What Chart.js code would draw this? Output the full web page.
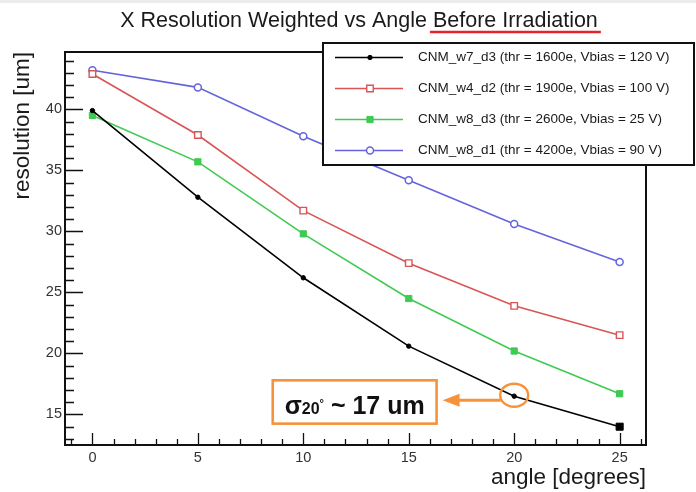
<!DOCTYPE html>
<html>
<head>
<meta charset="utf-8">
<script src="https://cdn.jsdelivr.net/npm/chart.js@4.4.1/dist/chart.umd.min.js"></script>
<style>
html,body{margin:0;padding:0;background:#fff;}
#wrap{width:696px;height:492px;position:relative;}
</style>
</head>
<body>
<div id="wrap"><canvas id="resChart" width="696" height="492"></canvas></div>
<script>
// ================= DATA =================
let angles = [0,5,10,15,20,25]
let resW7d3 = [39.9,32.8,26.2,20.6,16.5,14.0]
let resW4d2 = [42.9,37.9,31.7,27.4,23.9,21.5]
let resW8d3 = [39.5,35.7,29.8,24.5,20.2,16.7]
let resW8d1 = [43.2,41.8,37.8,34.2,30.6,27.5]
let seriesLabels = [
"CNM_w7_d3 (thr = 1600e, Vbias = 120 V)",
"CNM_w4_d2 (thr = 1900e, Vbias = 100 V)",
"CNM_w8_d3 (thr = 2600e, Vbias = 25 V)",
"CNM_w8_d1 (thr = 4200e, Vbias = 90 V)"
]
let xTicks = [0,5,10,15,20,25]
let yTicks = [15,20,25,30,35,40]

const FONT = "'Liberation Sans', Arial, Helvetica, sans-serif"
const ORANGE = "#f7923a"

function pts(vals){
return vals.map((v,i)=>({x:angles[i],y:v}))
}

// ================= PLUGINS =================
// ROOT style frame with inward major/minor ticks
const frameTicks = {
id:"frameTicks",
afterDatasetsDraw(chart){
let {ctx,chartArea:a,scales:{x,y}} = chart
ctx.save()
ctx.strokeStyle = "#111"
ctx.lineWidth = 1.3
ctx.beginPath()
for(let v=-1; v<=26; v++){
let px = Math.round(x.getPixelForValue(v))+0.5
let len = v%5===0 ? 12 : 6
ctx.moveTo(px,a.bottom)
ctx.lineTo(px,a.bottom-len)
}
for(let v=13; v<=44; v++){
let py = Math.round(y.getPixelForValue(v))+0.5
let len = v%5===0 ? 18 : 9
ctx.moveTo(a.left,py)
ctx.lineTo(a.left+len,py)
}
ctx.stroke()
ctx.lineWidth = 2
ctx.strokeRect(a.left,a.top,a.right-a.left,a.bottom-a.top)
ctx.restore()
}
}

// title on top, underline under the second half
const topTitle = {
id:"topTitle",
afterDraw(chart){
let ctx = chart.ctx
ctx.save()
ctx.fillStyle = "#ececec"
ctx.fillRect(0,0,chart.width,3)
ctx.font = "21.5px " + FONT
ctx.fillStyle = "#1a1a1a"
ctx.textBaseline = "alphabetic"
let part1 = "X Resolution Weighted vs Angle "
let part2 = "Before Irradiation"
let w1 = ctx.measureText(part1).width
let w2 = ctx.measureText(part2).width
let x0 = 359 - (w1+w2)/2
ctx.fillText(part1,x0,27)
ctx.fillText(part2,x0+w1,27)
ctx.strokeStyle = "#e8222a"
ctx.lineWidth = 2.6
ctx.beginPath()
ctx.moveTo(x0+w1-3,32)
ctx.lineTo(x0+w1+w2+3,32)
ctx.stroke()
ctx.restore()
}
}

// boxed legend drawn over the frame
function drawMarker(ctx,ds,x,y){
let style = Array.isArray(ds.pointStyle) ? ds.pointStyle[0] : ds.pointStyle
let r = Array.isArray(ds.pointRadius) ? ds.pointRadius[0] : ds.pointRadius
ctx.fillStyle = ds.pointBackgroundColor
ctx.strokeStyle = ds.borderColor
ctx.lineWidth = ds.pointBorderWidth
ctx.beginPath()
if(style==="rect"){
let s = Math.SQRT1_2*r
ctx.rect(x-s,y-s,2*s,2*s)
}else{
ctx.arc(x,y,r,0,Math.PI*2)
}
ctx.fill()
ctx.stroke()
}

const boxLegend = {
id:"boxLegend",
afterDraw(chart){
let ctx = chart.ctx
let L=323, T=43, R=694, B=165
ctx.save()
ctx.fillStyle = "#fff"
ctx.fillRect(L,T,R-L,B-T)
ctx.strokeStyle = "#111"
ctx.lineWidth = 2
ctx.strokeRect(L,T,R-L,B-T)
ctx.font = "13.5px " + FONT
ctx.textBaseline = "middle"
chart.data.datasets.forEach((ds,i)=>{
let ry = 57.5 + i*31
ctx.strokeStyle = ds.borderColor
ctx.lineWidth = ds.borderWidth
ctx.beginPath()
ctx.moveTo(335,ry)
ctx.lineTo(403,ry)
ctx.stroke()
drawMarker(ctx,ds,370,ry)
ctx.fillStyle = "#1a1a1a"
ctx.fillText(ds.label,418,ry)
})
ctx.restore()
}
}

// orange callout: box with sigma text, arrow, ring round the 20 deg point
const callout = {
id:"callout",
afterDraw(chart){
let ctx = chart.ctx
let {x,y} = chart.scales
let pt = chart.getDatasetMeta(0).data[4]
let bx0 = x.getPixelForValue(8.55), bx1 = x.getPixelForValue(16.32)
let by0 = y.getPixelForValue(17.8), by1 = y.getPixelForValue(14.25)
ctx.save()
ctx.fillStyle = "#fff"
ctx.fillRect(bx0,by0,bx1-bx0,by1-by0)
ctx.strokeStyle = ORANGE
ctx.lineWidth = 2.6
ctx.strokeRect(bx0,by0,bx1-bx0,by1-by0)

// text pieces
let base = by1 - 10
let pieces = [
{t:"σ",f:"bold 25px ",dy:0},
{t:"20",f:"bold 16px ",dy:0},
{t:"°",f:"bold 11px ",dy:-7},
{t:" ~ 17 um",f:"bold 25px ",dy:0}
]
let total = 0
pieces.forEach(p=>{ctx.font=p.f+FONT; p.w=ctx.measureText(p.t).width; total+=p.w})
let tx = (bx0+bx1)/2 - total/2
ctx.fillStyle = "#111"
ctx.textBaseline = "alphabetic"
pieces.forEach(p=>{
ctx.font = p.f+FONT
ctx.fillText(p.t,tx,base+p.dy)
tx += p.w
})

// ring
let cx = pt.x, cy = pt.y-1
ctx.strokeStyle = ORANGE
ctx.lineWidth = 2.4
ctx.beginPath()
ctx.ellipse(cx,cy,14,11.5,0,0,Math.PI*2)
ctx.stroke()

// arrow
let ay = cy + 5
let tip = bx1 + 6
ctx.lineWidth = 3
ctx.beginPath()
ctx.moveTo(cx-13.5,ay)
ctx.lineTo(tip+14,ay)
ctx.stroke()
ctx.fillStyle = ORANGE
ctx.beginPath()
ctx.moveTo(tip,ay)
ctx.lineTo(tip+17,ay-6.5)
ctx.lineTo(tip+17,ay+6.5)
ctx.closePath()
ctx.fill()
ctx.restore()
}
}

// ================= CHART =================
let ctx = document.getElementById("resChart")

new Chart(ctx,{
type:"scatter",
data:{
datasets:[
{
label:seriesLabels[0],
data:pts(resW7d3),
showLine:true,
borderColor:"#000",
borderWidth:1.6,
pointStyle:["circle","circle","circle","circle","circle","rect"],
pointRadius:[2.2,2.2,2.2,2.2,2.2,5],
pointBackgroundColor:"#000",
pointBorderWidth:1
},
{
label:seriesLabels[1],
data:pts(resW4d2),
showLine:true,
borderColor:"#d95555",
borderWidth:1.6,
pointStyle:"rect",
pointRadius:4.6,
pointBackgroundColor:"#fff",
pointBorderWidth:1.4
},
{
label:seriesLabels[2],
data:pts(resW8d3),
showLine:true,
borderColor:"#3fca52",
borderWidth:1.6,
pointStyle:"rect",
pointRadius:4.4,
pointBackgroundColor:"#3fca52",
pointBorderWidth:1
},
{
label:seriesLabels[3],
data:pts(resW8d1),
showLine:true,
borderColor:"#6464dc",
borderWidth:1.6,
pointStyle:"circle",
pointRadius:3.5,
pointBackgroundColor:"#fff",
pointBorderWidth:1.5
}
]
},
options:{
responsive:false,
animation:false,
devicePixelRatio:1,
layout:{padding:{top:52,right:50,bottom:0,left:0}},
plugins:{
legend:{display:false},
tooltip:{enabled:false}
},
scales:{
x:{
type:"linear",
min:-1.3,
max:26.25,
grid:{display:false,drawTicks:false},
border:{display:false},
afterBuildTicks:s=>{s.ticks = xTicks.map(v=>({value:v}))},
afterFit:s=>{s.height = 47},
ticks:{font:{family:FONT,size:14.5},color:"#333",padding:4},
title:{display:true,text:"angle [degrees]",align:"end",color:"#1a1a1a",
font:{family:FONT,size:22.5},padding:{top:0,bottom:0.5}}
},
y:{
type:"linear",
min:12.5,
max:44.7,
grid:{display:false,drawTicks:false},
border:{display:false},
afterBuildTicks:s=>{s.ticks = yTicks.map(v=>({value:v}))},
afterFit:s=>{s.width = 65},
ticks:{font:{family:FONT,size:14.5},color:"#333",padding:3},
title:{display:true,text:"resolution [um]",align:"end",color:"#1a1a1a",
font:{family:FONT,size:22.5},padding:{top:9,bottom:0}}
}
}
},
plugins:[frameTicks,topTitle,boxLegend,callout]
})
</script>
</body>
</html>
